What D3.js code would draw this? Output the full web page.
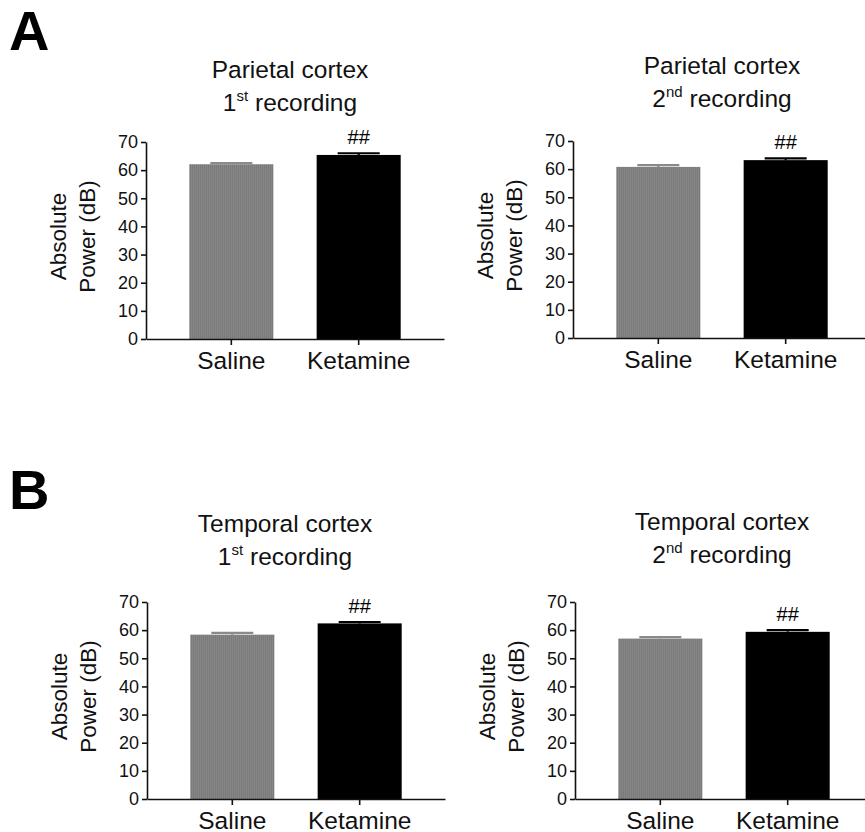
<!DOCTYPE html>
<html lang="en">
    <head>
        <script type="text/javascript" src="https://cdn.jsdelivr.net/npm/d3@7"></script>
        <title>Absolute power</title>
        <style>
            body { margin: 0; background: #fff; }
            text { font-family: "Liberation Sans", Arial, sans-serif; }
        </style>
    </head>
    <body>
        <script type="text/javascript">
            var w = 865;
            var h = 832;

            // data
            var groups = ["Saline", "Ketamine"];
            var regions = ["Parietal cortex", "Parietal cortex", "Temporal cortex", "Temporal cortex"];
            var recNum = ["1", "2", "1", "2"];
            var recSup = ["st", "nd", "st", "nd"];
            var salineMean = [62.1, 60.8, 58.4, 57.0];
            var salineSem = [0.4, 0.6, 0.6, 0.5];
            var ketamineMean = [65.4, 63.2, 62.4, 59.4];
            var ketamineSem = [0.6, 0.6, 0.5, 0.6];
            var marks = ["##", "##", "##", "##"];
            var yTicks = [0, 10, 20, 30, 40, 50, 60, 70];
            var panelLetters = ["A", "B"];

            // where each panel sits (axis origin, title offsets from plot top)
            var layout = [
                {x: 146, y: 339, titleX: 144, titleY: -72},
                {x: 573, y: 338, titleX: 149, titleY: -75},
                {x: 147, y: 799, titleX: 138, titleY: -78},
                {x: 575, y: 799, titleX: 147, titleY: -80}
            ];
            var plotH = 197;
            var plotW = 298;
            var colors = ["url(#grain)", "#000"];
            var errColors = ["#8a8a8a", "#000"];

            var svg = d3.select("body")
                        .append("svg")
                        .attr("width", w)
                        .attr("height", h);

            // fine vertical grain of the grey bars
            var pat = svg.append("defs").append("pattern")
                        .attr("id", "grain")
                        .attr("patternUnits", "userSpaceOnUse")
                        .attr("width", 2)
                        .attr("height", 2);
            pat.append("rect").attr("width", 2).attr("height", 2).attr("fill", "#868686");
            pat.append("rect").attr("width", 1).attr("height", 2).attr("fill", "#7b7b7b");

            // panel letters
            svg.selectAll("text.letter")
                .data(panelLetters)
                .enter()
                .append("text")
                .attr("class", "letter")
                .attr("x", 9)
                .attr("y", function(d, i) { return i == 0 ? 50 : 509; })
                .attr("font-size", "56px")
                .attr("font-weight", "bold")
                .text(function(d) { return d; });

            var xScale = d3.scaleBand()
                            .domain(groups)
                            .range([0, plotW])
                            .paddingInner(0.34)
                            .paddingOuter(0.34);

            var yScale = d3.scaleLinear()
                            .domain([0, 70])
                            .range([plotH, 0]);

            layout.forEach(function(p, k) {
                var g = svg.append("g")
                            .attr("transform", "translate(" + p.x + "," + (p.y - plotH) + ")");

                var means = [salineMean[k], ketamineMean[k]];
                var sems = [salineSem[k], ketamineSem[k]];

                // title, two lines
                var t = g.append("text")
                        .attr("text-anchor", "middle")
                        .attr("font-size", "24.5px")
                        .attr("fill", "#111");
                t.append("tspan")
                    .attr("x", p.titleX)
                    .attr("y", p.titleY + 8)
                    .text(regions[k]);
                var l2 = t.append("tspan")
                    .attr("x", p.titleX)
                    .attr("y", p.titleY + 41);
                l2.append("tspan").text(recNum[k]);
                l2.append("tspan")
                    .attr("font-size", "15px")
                    .attr("dy", -10)
                    .text(recSup[k]);
                l2.append("tspan")
                    .attr("dy", 10)
                    .text(" recording");

                // bars
                g.selectAll("rect.bar")
                    .data(means)
                    .enter()
                    .append("rect")
                    .attr("class", "bar")
                    .attr("x", function(d, i) { return xScale(groups[i]); })
                    .attr("y", function(d) { return yScale(d); })
                    .attr("width", xScale.bandwidth())
                    .attr("height", function(d) { return plotH - yScale(d); })
                    .attr("fill", function(d, i) { return colors[i]; });

                // error bars (upper only, same colour as bar)
                g.selectAll("path.err")
                    .data(means)
                    .enter()
                    .append("path")
                    .attr("class", "err")
                    .attr("d", function(d, i) {
                        var cx = xScale(groups[i]) + xScale.bandwidth() / 2;
                        var top = yScale(d + sems[i]);
                        var q = xScale.bandwidth() / 4;
                        return "M" + cx + "," + yScale(d) + "V" + top +
                               "M" + (cx - q) + "," + top + "H" + (cx + q);
                    })
                    .attr("stroke", function(d, i) { return errColors[i]; })
                    .attr("stroke-width", 2.2)
                    .attr("fill", "none");

                // significance mark over ketamine
                g.append("text")
                    .attr("x", xScale("Ketamine") + xScale.bandwidth() / 2)
                    .attr("y", yScale(ketamineMean[k] + ketamineSem[k]) - 9)
                    .attr("text-anchor", "middle")
                    .attr("font-size", "20px")
                    .text(marks[k]);

                // axes
                var yAxis = d3.axisLeft(yScale)
                            .tickValues(yTicks)
                            .tickSize(5)
                            .tickSizeOuter(0)
                            .tickPadding(3);
                var ya = g.append("g").call(yAxis);
                ya.selectAll("text").attr("font-size", "18px").attr("fill", "#111");

                var xAxis = d3.axisBottom(xScale)
                            .tickSize(6)
                            .tickSizeOuter(0)
                            .tickPadding(7);
                var xa = g.append("g")
                        .attr("transform", "translate(0," + plotH + ")")
                        .call(xAxis);
                xa.selectAll("text").attr("font-size", "24.5px").attr("fill", "#111");

                svg.selectAll(".domain, .tick line")
                    .attr("stroke", "#111")
                    .attr("stroke-width", 1.6);

                // y axis title, two lines
                g.append("text")
                    .attr("transform", "translate(-88," + (plotH / 2 - 4) + ") rotate(-90)")
                    .attr("text-anchor", "middle")
                    .attr("dy", "0.35em")
                    .attr("font-size", "22.5px")
                    .attr("fill", "#111")
                    .text("Absolute");
                g.append("text")
                    .attr("transform", "translate(-59," + (plotH / 2 - 4) + ") rotate(-90)")
                    .attr("text-anchor", "middle")
                    .attr("dy", "0.35em")
                    .attr("font-size", "22.5px")
                    .attr("fill", "#111")
                    .text("Power (dB)");
            });
        </script>
    </body>
</html>
